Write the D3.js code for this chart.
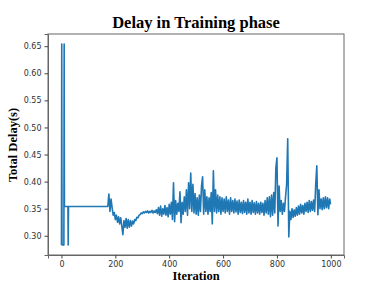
<!DOCTYPE html>
<html>
<head>
<meta charset="utf-8">
<script src="https://cdn.jsdelivr.net/npm/d3@7"></script>
<style>
  body { margin: 0; background: #fff; }
  .tick text { font-family: "DejaVu Sans", sans-serif; font-size: 8px; fill: #333; }
  .tick line { stroke: #444; }
  .domain { stroke: #666; }
  .label { font-family: "Liberation Serif", "Times New Roman", serif; font-weight: bold; fill: #000; }
</style>
</head>
<body>
<div id="chart"></div>
<script>

// start of training: spikes, then flat
const startPhase = [[0,0.283],[1,0.654],[2,0.283],[9,0.283],[10,0.654],[11,0.354],[24,0.354],[25,0.283],[26,0.354],[172,0.354]];

// first bump and the dip
const dipPhase = [[176,0.377],[180,0.345],[184,0.368],[188,0.352],[192,0.338],[196,0.343],[200,0.330],[204,0.338],
  [208,0.325],[212,0.335],[216,0.322],[220,0.333],[224,0.318],[228,0.302],[232,0.328],[236,0.316],[240,0.332],
  [244,0.314],[248,0.330],[252,0.316],[256,0.328],[260,0.318],[264,0.327],[268,0.322],[272,0.330],[276,0.328],
  [280,0.334],[284,0.333],[288,0.338],[292,0.339],[296,0.342],[300,0.341],[304,0.344],[308,0.342],[312,0.345],
  [316,0.343],[320,0.346],[324,0.342],[328,0.345],[332,0.343],[336,0.347],[340,0.342],[344,0.346],[348,0.343],
  [352,0.348],[356,0.341]];

// noisy part
const noisyPhase = [[360,0.352],[364,0.338],[368,0.355],[372,0.336],[376,0.350],[380,0.340],[384,0.356],[388,0.338],
  [392,0.352],[396,0.335],[400,0.358],[404,0.340],[408,0.362],[412,0.330],[416,0.398],[420,0.326],[424,0.365],
  [428,0.340],[432,0.360],[436,0.345],[440,0.381],[444,0.324],[448,0.362],[452,0.340],[456,0.372],[460,0.345],
  [464,0.385],[468,0.338],[472,0.398],[476,0.350],[480,0.416],[484,0.345],[488,0.395],[492,0.342],[496,0.378],
  [500,0.340],[504,0.370],[508,0.338],[512,0.375],[516,0.345],[520,0.392],[524,0.409],[528,0.340],[532,0.385],
  [536,0.345],[540,0.372],[544,0.340],[548,0.370],[552,0.345],[556,0.380],[560,0.322],[564,0.420],[568,0.345],
  [572,0.385],[576,0.342],[580,0.375],[584,0.345],[588,0.372],[592,0.340],[596,0.370],[600,0.345],[604,0.368],
  [608,0.342],[612,0.372],[616,0.345],[620,0.366],[624,0.340],[628,0.370],[632,0.345],[636,0.365],[640,0.342],
  [644,0.368],[648,0.344],[652,0.364],[656,0.340],[660,0.366],[664,0.343],[668,0.362],[672,0.341],[676,0.365],
  [680,0.343],[684,0.362],[688,0.340],[692,0.368],[696,0.342],[700,0.362],[704,0.340],[708,0.365],[712,0.343],
  [716,0.361],[720,0.340],[724,0.363],[728,0.342],[732,0.360],[736,0.340],[740,0.362],[744,0.343],[748,0.360],
  [752,0.338],[756,0.365],[760,0.342],[764,0.370],[768,0.340],[772,0.372],[776,0.335],[780,0.375],[784,0.338],
  [788,0.380],[792,0.342],[796,0.425],[800,0.444],[804,0.318],[808,0.392],[812,0.345],[816,0.365],[820,0.340],
  [824,0.360],[828,0.345],[832,0.372],[836,0.395],[840,0.479],[844,0.298],[848,0.345],[852,0.330],[856,0.350],
  [860,0.334],[864,0.348],[868,0.336],[872,0.352],[876,0.338],[880,0.355],[884,0.340],[888,0.358],[892,0.342],
  [896,0.356],[900,0.340],[904,0.360],[908,0.345],[912,0.362],[916,0.343],[920,0.365],[924,0.345],[928,0.363],
  [932,0.347],[936,0.366],[940,0.345],[944,0.395],[948,0.429],[952,0.339],[956,0.385],[960,0.350],[964,0.368],
  [968,0.348],[972,0.370],[976,0.350],[980,0.372],[984,0.352],[988,0.370],[992,0.350],[996,0.368],[999,0.358]];

const xTicks = [0, 200, 400, 600, 800, 1000];
const yTicks = [0.30, 0.35, 0.40, 0.45, 0.50, 0.55, 0.60, 0.65];

const data = startPhase.concat(dipPhase, noisyPhase);

const margin = {top: 34, right: 38, bottom: 32, left: 48};
const width = 382 - margin.left - margin.right;
const height = 287 - margin.top - margin.bottom;

const svg = d3.select("#chart").append("svg")
    .attr("width", 382)
    .attr("height", 287);

const g = svg.append("g")
    .attr("transform", `translate(${margin.left},${margin.top})`);

const x = d3.scaleLinear().domain([-50, 1049]).range([0, width]);
const y = d3.scaleLinear().domain([0.2645, 0.6725]).range([height, 0]);

// frame
g.append("rect")
    .attr("width", width)
    .attr("height", height)
    .attr("fill", "none")
    .attr("stroke", "#666")
    .attr("stroke-width", 1);

g.append("g")
    .attr("transform", `translate(0,${height})`)
    .call(d3.axisBottom(x).tickValues(xTicks).tickSize(3.5).tickPadding(3).tickFormat(d3.format("d")));

g.append("g")
    .call(d3.axisLeft(y).tickValues(yTicks).tickSize(3.5).tickPadding(3).tickFormat(d3.format(".2f")));

const line = d3.line()
    .x(d => x(d[0]))
    .y(d => y(d[1]));

g.append("path")
    .datum(data)
    .attr("fill", "none")
    .attr("stroke", "#1f77b4")
    .attr("stroke-width", 1.6)
    .attr("stroke-linejoin", "round")
    .attr("d", line);

// titles
svg.append("text")
    .attr("class", "label")
    .attr("x", 196)
    .attr("y", 28)
    .attr("text-anchor", "middle")
    .style("font-size", "16.5px")
    .text("Delay in Training phase");

svg.append("text")
    .attr("class", "label")
    .attr("x", 196)
    .attr("y", 280)
    .attr("text-anchor", "middle")
    .style("font-size", "12.5px")
    .text("Iteration");

svg.append("text")
    .attr("class", "label")
    .attr("transform", "translate(17,145) rotate(-90)")
    .attr("text-anchor", "middle")
    .style("font-size", "12.5px")
    .text("Total Delay(s)");

</script>
</body>
</html>
